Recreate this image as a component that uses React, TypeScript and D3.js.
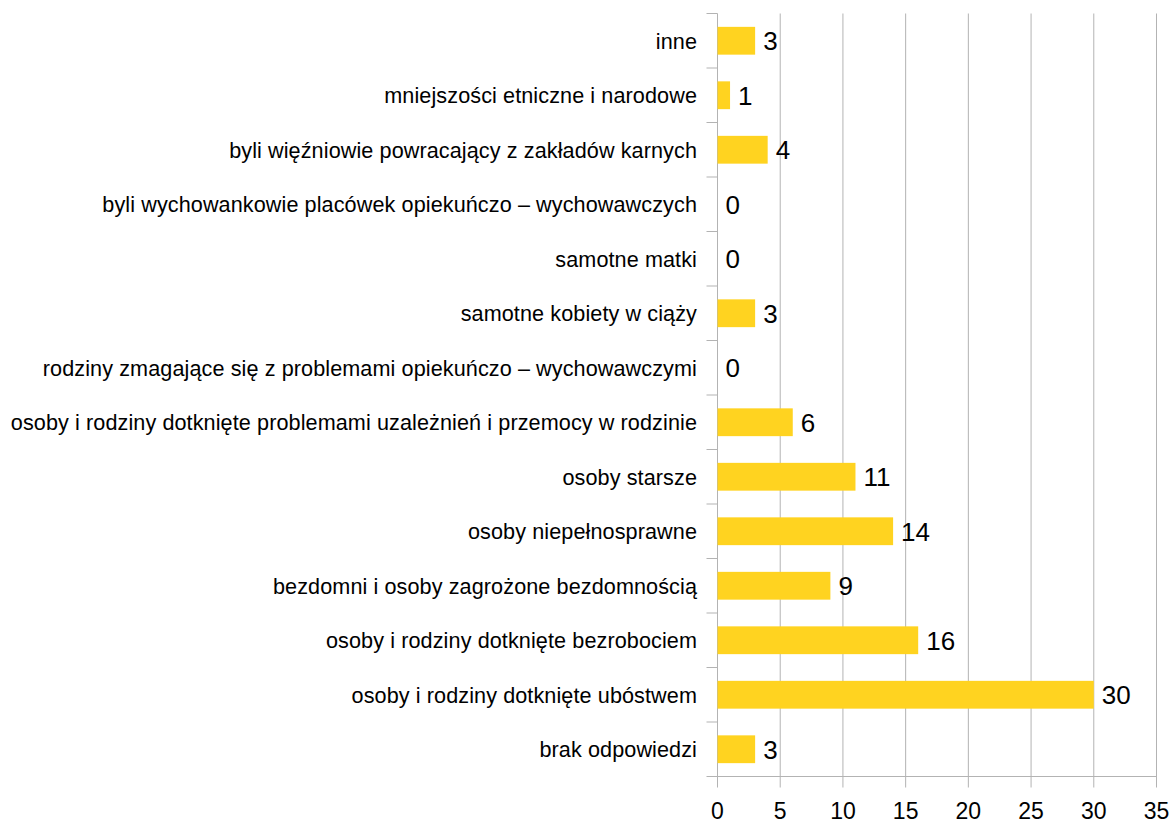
import * as d3 from 'd3';
import React from 'react';

const categories = [
  'inne',
  'mniejszości etniczne i narodowe',
  'byli więźniowie powracający z zakładów karnych',
  'byli wychowankowie placówek opiekuńczo – wychowawczych',
  'samotne matki',
  'samotne kobiety w ciąży',
  'rodziny zmagające się z problemami opiekuńczo – wychowawczymi',
  'osoby i rodziny dotknięte problemami uzależnień i przemocy w rodzinie',
  'osoby starsze',
  'osoby niepełnosprawne',
  'bezdomni i osoby zagrożone bezdomnością',
  'osoby i rodziny dotknięte bezrobociem',
  'osoby i rodziny dotknięte ubóstwem',
  'brak odpowiedzi',
];
const values = [3, 1, 4, 0, 0, 3, 0, 6, 11, 14, 9, 16, 30, 3];
const xTicks = [0, 5, 10, 15, 20, 25, 30, 35];

const width = 1174;
const height = 823;
const left = 717.5;
const right = 1156.5;
const top = 13.5;
const bottom = 776.5;
const font = '"Liberation Sans", Arial, sans-serif';

export default function App() {
  const x = d3.scaleLinear().domain([0, 35]).range([left, right]);
  const y = d3.scaleBand().domain(categories).range([top, bottom]).paddingInner(0.49).paddingOuter(0.245);
  const band = d3.scaleBand().domain(categories).range([top, bottom]);
  const grid = '#b3b3b3';

  return (
    <svg width={width} height={height} style={{ position: 'absolute', left: 0, top: 0 }}>
      {xTicks.map(t => (
        <g key={t}>
          <line x1={x(t)} x2={x(t)} y1={top} y2={bottom + 11} stroke={grid} strokeWidth={1} />
          <text x={x(t)} y={818.5} textAnchor="middle" fontFamily={font} fontSize={23} fill="#000">
            {t}
          </text>
        </g>
      ))}
      {categories.map((c, i) => (
        <line key={'t' + i} x1={left - 11} x2={left} y1={band(c)!} y2={band(c)!} stroke={grid} />
      ))}
      <line x1={left - 11} x2={right} y1={bottom} y2={bottom} stroke={grid} />
      {categories.map((c, i) => (
        <g key={c}>
          <rect x={x(0)} y={y(c)!} width={x(values[i]) - x(0)} height={y.bandwidth()} fill="#ffd320" />
          <text
            x={697}
            y={band(c)! + band.bandwidth() / 2}
            dy="0.37em"
            textAnchor="end"
            fontFamily={font}
            fontSize={21.6}
            letterSpacing={0.1}
            fill="#000"
          >
            {c}
          </text>
          <text
            x={x(values[i]) + 8}
            y={band(c)! + band.bandwidth() / 2}
            dy="0.36em"
            fontFamily={font}
            fontSize={26}
            fill="#000"
          >
            {values[i]}
          </text>
        </g>
      ))}
    </svg>
  );
}
